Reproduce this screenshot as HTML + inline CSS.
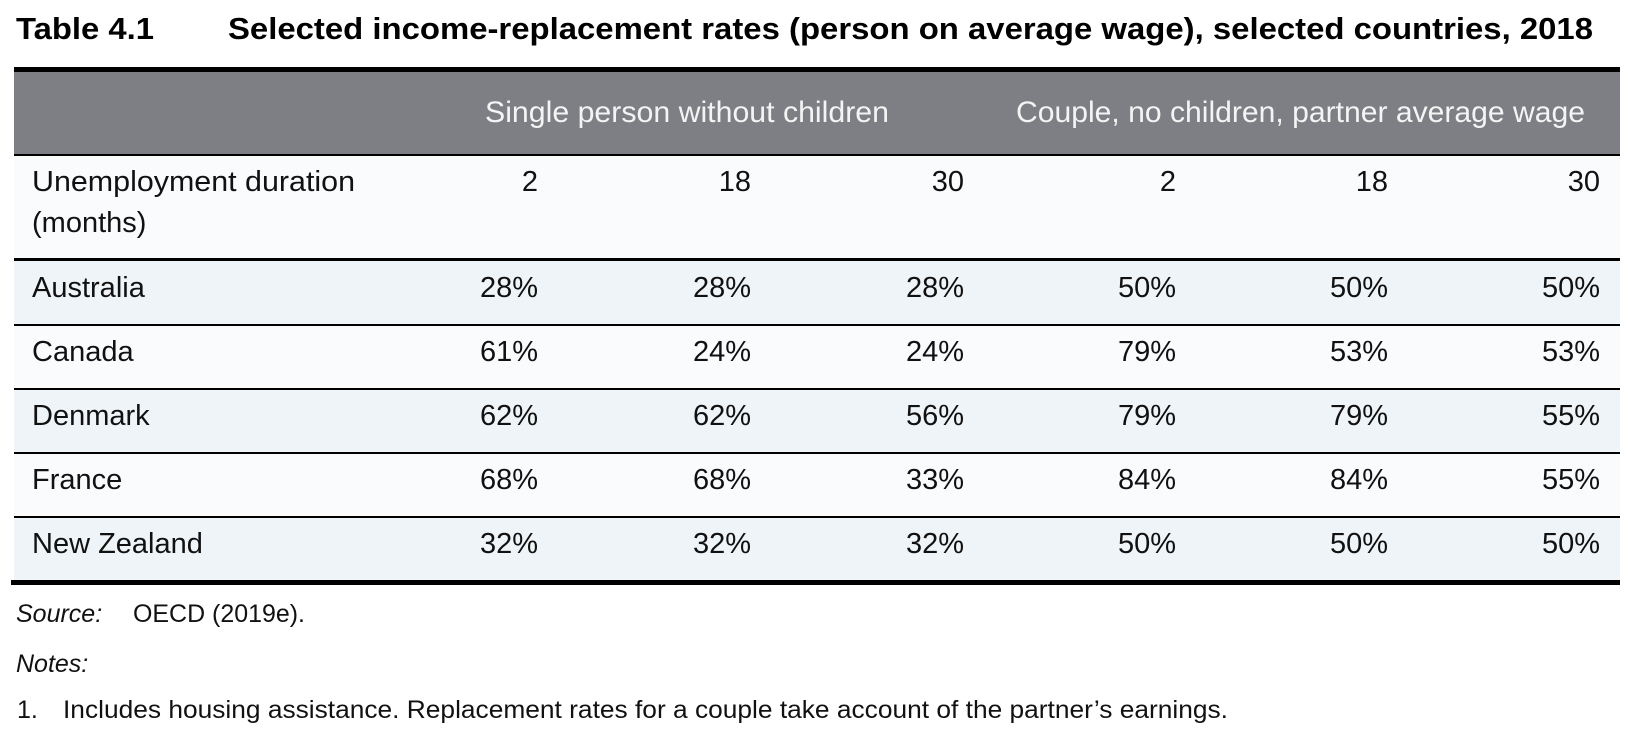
<!DOCTYPE html>
<html>
<head>
<meta charset="utf-8">
<style>
  html, body { margin: 0; padding: 0; background: #ffffff; }
  body { width: 1630px; height: 738px; overflow: hidden; }
  svg { display: block; }
  text { font-family: "Liberation Sans", Arial, sans-serif; }
  .t { font-weight: bold; font-size: 31px; fill: #000; }
  .h { font-size: 30px; fill: #f4f4f4; }
  .b { font-size: 29px; fill: #111; }
  .n { font-size: 29px; fill: #111; text-anchor: end; }
  .s { font-size: 25px; fill: #111; }
  .i { font-style: italic; }
</style>
</head>
<body>
<svg width="1630" height="738" viewBox="0 0 1630 738" xmlns="http://www.w3.org/2000/svg">
  <rect x="0" y="0" width="1630" height="738" fill="#ffffff"/>

  <!-- Title -->
  <text class="t" x="16" y="39" textLength="138" lengthAdjust="spacingAndGlyphs">Table 4.1</text>
  <text class="t" x="228" y="39" textLength="1365" lengthAdjust="spacingAndGlyphs">Selected income-replacement rates (person on average wage), selected countries, 2018</text>

  <!-- Table structure -->
  <rect x="14" y="67" width="1606" height="5" fill="#000"/>
  <rect x="14" y="72" width="1606" height="82" fill="#7e7f84"/>
  <rect x="14" y="154" width="1606" height="2" fill="#000"/>

  <rect x="14" y="156" width="1606" height="102" fill="#f9fbfd"/>
  <rect x="14" y="258" width="1606" height="3" fill="#000"/>

  <rect x="14" y="261" width="1606" height="63" fill="#eff4f8"/>
  <rect x="14" y="324" width="1606" height="2" fill="#000"/>

  <rect x="14" y="326" width="1606" height="62" fill="#f9fbfd"/>
  <rect x="14" y="388" width="1606" height="2" fill="#000"/>

  <rect x="14" y="390" width="1606" height="62" fill="#eff4f8"/>
  <rect x="14" y="452" width="1606" height="2" fill="#000"/>

  <rect x="14" y="454" width="1606" height="62" fill="#f9fbfd"/>
  <rect x="14" y="516" width="1606" height="2" fill="#000"/>

  <rect x="14" y="518" width="1606" height="62" fill="#eff4f8"/>
  <rect x="11" y="580" width="1609" height="5" fill="#000"/>

  <!-- Header -->
  <text class="h" x="485" y="122" textLength="404" lengthAdjust="spacingAndGlyphs">Single person without children</text>
  <text class="h" x="1016" y="122" textLength="569" lengthAdjust="spacingAndGlyphs">Couple, no children, partner average wage</text>

  <!-- Duration row -->
  <text class="b" x="32" y="191" textLength="323" lengthAdjust="spacingAndGlyphs">Unemployment duration</text>
  <text class="b" x="32" y="232">(months)</text>
  <text class="n" x="538" y="191">2</text>
  <text class="n" x="751" y="191">18</text>
  <text class="n" x="964" y="191">30</text>
  <text class="n" x="1176" y="191">2</text>
  <text class="n" x="1388" y="191">18</text>
  <text class="n" x="1600" y="191">30</text>

  <!-- Australia -->
  <text class="b" x="32" y="297">Australia</text>
  <text class="n" x="538" y="297">28%</text>
  <text class="n" x="751" y="297">28%</text>
  <text class="n" x="964" y="297">28%</text>
  <text class="n" x="1176" y="297">50%</text>
  <text class="n" x="1388" y="297">50%</text>
  <text class="n" x="1600" y="297">50%</text>

  <!-- Canada -->
  <text class="b" x="32" y="361">Canada</text>
  <text class="n" x="538" y="361">61%</text>
  <text class="n" x="751" y="361">24%</text>
  <text class="n" x="964" y="361">24%</text>
  <text class="n" x="1176" y="361">79%</text>
  <text class="n" x="1388" y="361">53%</text>
  <text class="n" x="1600" y="361">53%</text>

  <!-- Denmark -->
  <text class="b" x="32" y="425">Denmark</text>
  <text class="n" x="538" y="425">62%</text>
  <text class="n" x="751" y="425">62%</text>
  <text class="n" x="964" y="425">56%</text>
  <text class="n" x="1176" y="425">79%</text>
  <text class="n" x="1388" y="425">79%</text>
  <text class="n" x="1600" y="425">55%</text>

  <!-- France -->
  <text class="b" x="32" y="489">France</text>
  <text class="n" x="538" y="489">68%</text>
  <text class="n" x="751" y="489">68%</text>
  <text class="n" x="964" y="489">33%</text>
  <text class="n" x="1176" y="489">84%</text>
  <text class="n" x="1388" y="489">84%</text>
  <text class="n" x="1600" y="489">55%</text>

  <!-- New Zealand -->
  <text class="b" x="32" y="553">New Zealand</text>
  <text class="n" x="538" y="553">32%</text>
  <text class="n" x="751" y="553">32%</text>
  <text class="n" x="964" y="553">32%</text>
  <text class="n" x="1176" y="553">50%</text>
  <text class="n" x="1388" y="553">50%</text>
  <text class="n" x="1600" y="553">50%</text>

  <!-- Source / Notes -->
  <text class="s i" x="16" y="622">Source:</text>
  <text class="s" x="133" y="622" textLength="172" lengthAdjust="spacingAndGlyphs">OECD (2019e).</text>
  <text class="s i" x="16" y="672">Notes:</text>
  <text class="s" x="17" y="718">1.</text>
  <text class="s" x="63" y="718" textLength="1165" lengthAdjust="spacingAndGlyphs">Includes housing assistance. Replacement rates for a couple take account of the partner’s earnings.</text>
</svg>
</body>
</html>
